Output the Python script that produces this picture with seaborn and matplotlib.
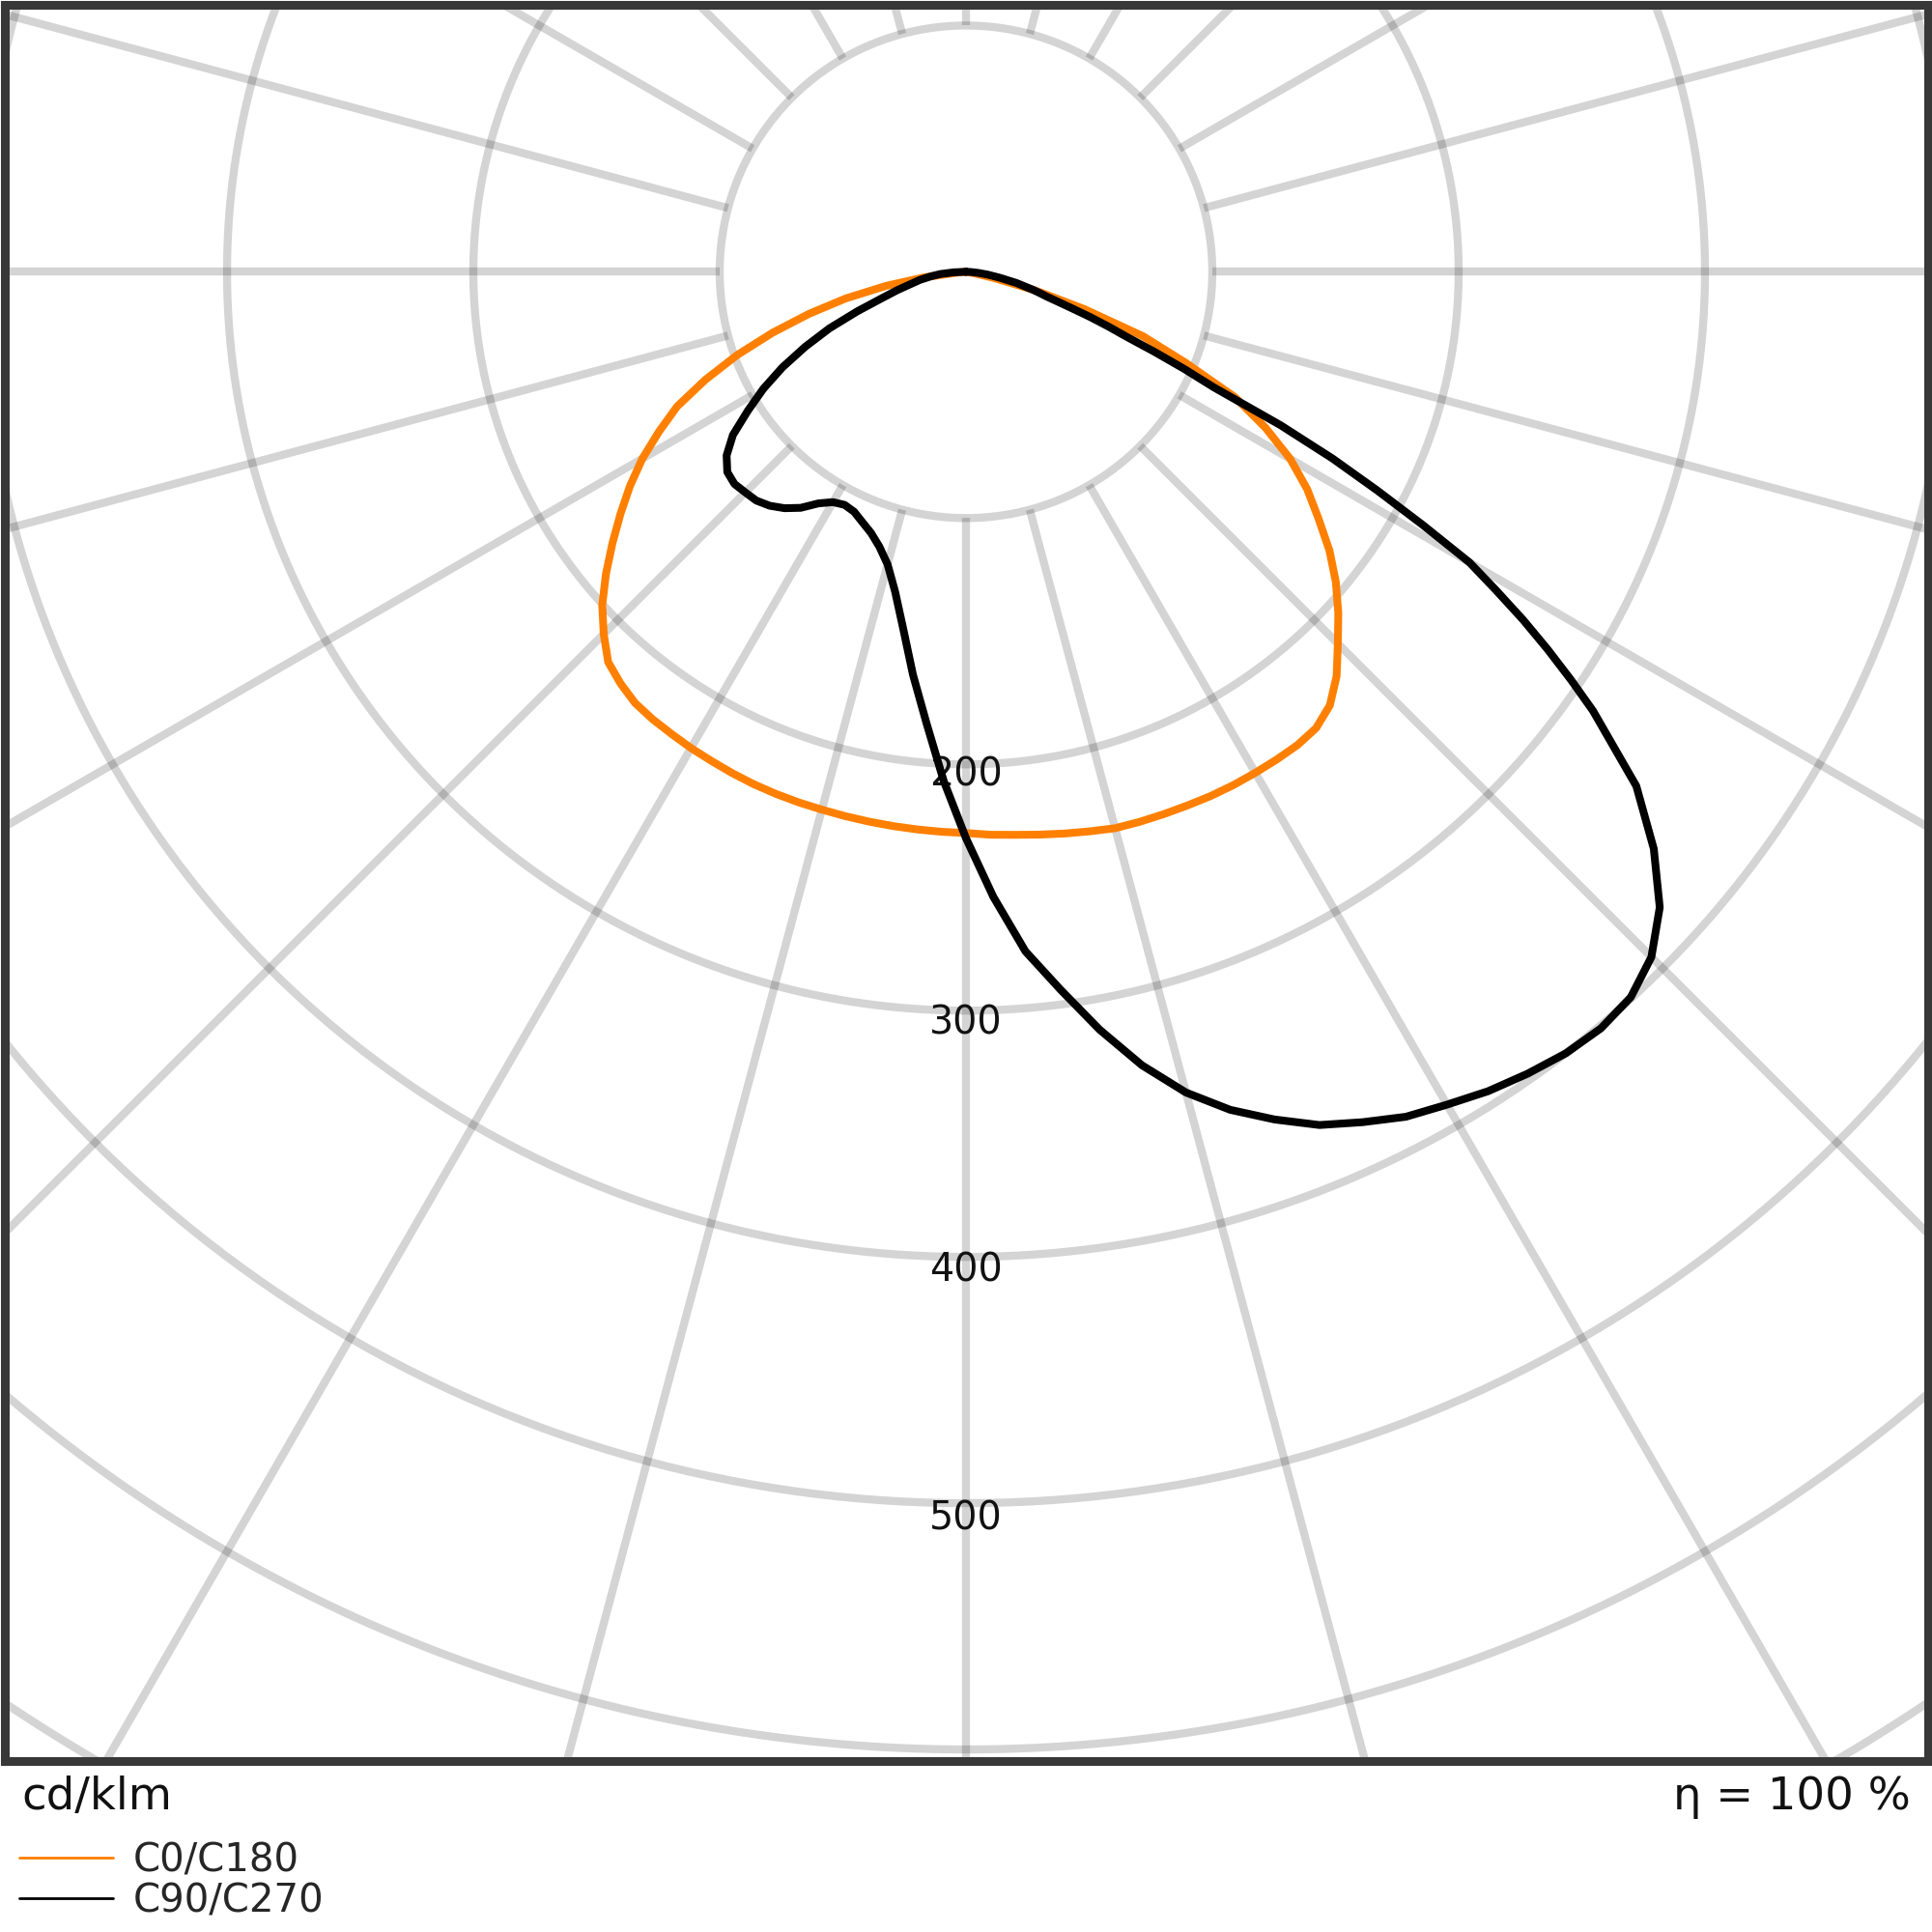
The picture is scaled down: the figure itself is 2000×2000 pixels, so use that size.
import numpy as np
import pandas as pd
import matplotlib
matplotlib.use("Agg")
import matplotlib.pyplot as plt
from matplotlib.lines import Line2D
import seaborn as sns

# ---------------- data (cd/klm vs gamma, 0 = nadir, negative = left half) ----
gamma_c0 = [-90, -87.5, -85, -82.5, -80, -77.5, -75, -72.5, -70, -67.5, -65,
            -62.5, -60, -57.5, -55, -52.5, -50, -47.5, -45, -42.5, -40, -37.5,
            -35, -32.5, -30, -27.5, -25, -22.5, -20, -17.5, -15, -12.5, -10,
            -7.5, -5, -2.5, 0, 2.5, 5, 7.5, 10, 12.5, 15, 17.5, 20, 22.5, 25,
            27.5, 30, 32.5, 35, 37.5, 40, 42.5, 45, 47.5, 50, 52.5, 55, 57.5,
            60, 62.5, 65, 67.5, 70, 72.5, 75, 77.5, 80, 82.5, 85, 87.5, 90]
c0_c180 = [0, 0, 3, 17, 33, 50, 66, 82.4, 98.9, 114.5, 129.4, 140.5, 151.7,
           161.7, 171.2, 180.9, 190.8, 200.3, 208, 215, 218.2, 220.7, 221.8,
           222.5, 223.3, 223.9, 224.6, 225.2, 225.6, 225.9, 226.1, 226.4,
           226.7, 227, 227.3, 227.6, 227.9, 228.8, 229.5, 230.5, 231.6, 232.7,
           233.9, 234.2, 234.4, 234.6, 234.9, 235, 234.9, 234.8, 234.6, 233.5,
           229.8, 222.7, 213.5, 205, 196, 186, 174.7, 164.2, 152, 137, 120.5,
           96.5, 76.5, 50.4, 28.9, 11.4, 3, 0, 0, 0, 0]

gamma_c90 = [-90, -87.5, -85, -82.5, -80, -77.5, -75, -72.5, -70, -67.5, -65,
             -62.5, -60, -57.5, -55, -52.5, -50, -47.5, -45, -42.5, -40, -37.5,
             -35, -32.5, -30, -27.5, -25, -22.5, -20, -17.5, -15, -12.5, -10,
             -7.5, -5, -2.5, 0, 2.5, 5, 7.5, 10, 12.5, 15, 17.5, 20, 22.5, 25,
             27.5, 30, 32.5, 35, 37.5, 40, 42.5, 45, 47.5, 50, 52.5, 55, 56,
             57, 58, 59, 60, 61, 62, 63, 64, 65, 66, 67, 68, 69, 70, 71, 72,
             73, 74, 75, 77.5, 80, 82.5, 85, 87.5, 90]
c90_c270 = [0, 5, 10.5, 14.5, 19, 23, 29, 36, 47, 60, 72, 84, 95, 105, 115.5,
            122.5, 126.5, 127.5, 126.7, 126, 124, 121, 117, 111.5, 108, 106.7,
            107.5, 110, 112.8, 117, 123, 133, 147, 165, 184, 207, 230, 254, 277,
            294, 312.5, 330, 345, 356.8, 366.3, 375, 381, 386.8, 390.5, 394.5,
            397.5, 400, 401, 399.5, 393.5, 382, 364.5, 343, 310.7, 296.2, 281.6,
            266.7, 251, 236, 212, 189, 167, 142, 111, 97, 83, 70, 61.7, 53.5,
            45.4, 39, 34, 31, 28, 21, 14, 9, 5, 2, 0]

ring_labels = [200, 300, 400, 500]
series_names = ["C0/C180", "C90/C270"]
series_colors = ["#ff8000", "#000000"]
unit_text = "cd/klm"
eta_text = "η = 100 %"


def to_xy(gamma, inten, name):
    g = np.deg2rad(np.asarray(gamma, dtype=float))
    r = np.asarray(inten, dtype=float)
    return pd.DataFrame({"x": r * np.sin(g), "y": -r * np.cos(g),
                         "order": np.arange(len(r)), "series": name})


sns.set_style("white")
plt.rcParams["font.family"] = ["DejaVu Sans"]

fig = plt.figure(figsize=(20, 20), dpi=100)
ax = fig.add_axes([0.00225, 0.0885, 0.9955, 0.909])
ax.set_xlim(-390.4, 390.4)
ax.set_ylim(-604.7, 108.4)

# polar grid
grid_kw = dict(color="black", alpha=0.17, lw=6, solid_capstyle="butt", zorder=1)
t = np.linspace(0, 2 * np.pi, 721)
for rr in range(100, 900, 100):
    ax.plot(rr * np.cos(t), rr * np.sin(t), **grid_kw)
for a in range(0, 360, 15):
    ar = np.deg2rad(a)
    ax.plot([100 * np.sin(ar), 900 * np.sin(ar)],
            [-100 * np.cos(ar), -900 * np.cos(ar)], **grid_kw)

for rr in ring_labels:
    ax.text(0, -(rr * 1.007 + 3), str(rr), ha="center", va="center",
            fontsize=28.5, color="#111111", zorder=3)

d0 = to_xy(gamma_c0, c0_c180, series_names[0])
d1 = to_xy(gamma_c90, c90_c270, series_names[1])
sns.lineplot(data=d0, x="x", y="y", sort=False, estimator=None,
             color=series_colors[0], lw=5.8, ax=ax, zorder=4)
sns.lineplot(data=d1, x="x", y="y", sort=False, estimator=None,
             color=series_colors[1], lw=5.8, ax=ax, zorder=5)

ax.set_xticks([])
ax.set_yticks([])
ax.set_xlabel("")
ax.set_ylabel("")
for s in ax.spines.values():
    s.set_visible(True)
    s.set_linewidth(6.5)
    s.set_color("#383838")

fig.text(0.011, 0.0635, unit_text, ha="left", va="baseline", fontsize=33.5,
         color="#111111")
fig.text(0.989, 0.0635, eta_text, ha="right", va="baseline", fontsize=33.5,
         color="#111111")

handles = [Line2D([], [], color=c, lw=2) for c in series_colors]
fig.legend(handles=handles, labels=series_names, loc="upper left",
           bbox_to_anchor=(0.01, 0.04675), frameon=False, fontsize=29,
           handlelength=2.41, handletextpad=0.52, labelspacing=0.04,
           borderpad=0, borderaxespad=0)

fig.savefig("out.png", dpi=100)
